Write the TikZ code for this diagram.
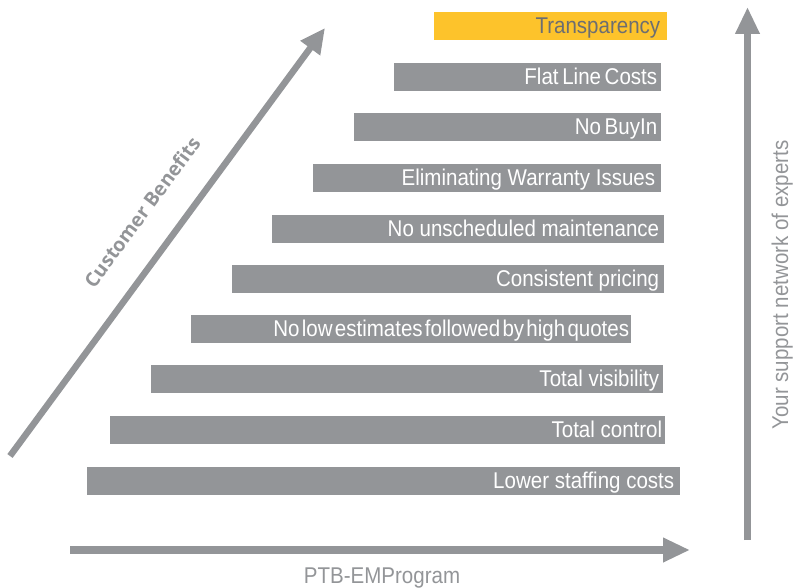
\documentclass[tikz,border=0pt]{standalone}
\usepackage{fontspec}
\usetikzlibrary{arrows.meta}
\newfontfamily\condfont[FakeStretch=0.9]{Liberation Sans}
\newfontfamily\boldsans{Open Sans}
\definecolor{bargray}{HTML}{939598}
\definecolor{baryellow}{HTML}{FDC32B}
\definecolor{darktext}{HTML}{6D6E71}
\tikzset{
  barbox/.style={fill=bargray, draw=none, inner sep=0pt, anchor=north west},
  yellowbox/.style={fill=baryellow, draw=none, inner sep=0pt, anchor=north west},
  bartext/.style={font=\condfont\fontsize{22.8}{24}\selectfont, text=white, inner sep=0pt, anchor=base east},
  axislabel/.style={font=\condfont\fontsize{22.8}{24}\selectfont, text=bargray, inner sep=0pt},
  bigarrow/.style={draw=bargray, line width=7.5pt, -{Triangle[length=27pt,width=23pt]}},
  tight/.style={execute at begin node={\spaceskip=0.16em plus 0.02em}}
}
\newcommand{\benefitbar}[5]{%
  % #1 name, #2 x1, #3 top, #4 x2, #5 style
  \node (#1) [#5, minimum width={#4-#2}, minimum height=27.5pt] at (#2,#3) {};
}
\begin{document}
\begin{tikzpicture}[x=1pt,y=-1pt]
\useasboundingbox (0,0) rectangle (793,588);
% bars
\benefitbar{b1}{434}{12}{667}{yellowbox}
\benefitbar{b2}{394}{63}{661}{barbox}
\benefitbar{b3}{354}{113}{661}{barbox}
\benefitbar{b4}{313}{164}{661}{barbox}
\benefitbar{b5}{272}{215}{664}{barbox}
\benefitbar{b6}{232}{265}{664}{barbox}
\benefitbar{b7}{191}{315}{631}{barbox}
\benefitbar{b8}{151}{365}{663}{barbox}
\benefitbar{b9}{110}{416}{665}{barbox}
\benefitbar{b10}{87}{467}{680}{barbox}
% texts
\node (t1) [bartext, text=darktext] at ([xshift=-7pt,yshift=-21.5pt]b1.north east) {Transparency};
\node (t2) [bartext, tight] at ([xshift=-4pt,yshift=-21.5pt]b2.north east) {Flat Line Costs};
\node (t3) [bartext, tight] at ([xshift=-4pt,yshift=-21.5pt]b3.north east) {No BuyIn};
\node (t4) [bartext] at ([xshift=-6pt,yshift=-21.5pt]b4.north east) {Eliminating Warranty Issues};
\node (t5) [bartext] at ([xshift=-5pt,yshift=-21.5pt]b5.north east) {No unscheduled maintenance};
\node (t6) [bartext] at ([xshift=-5pt,yshift=-21.5pt]b6.north east) {Consistent pricing};
\node (t7) [bartext, execute at begin node={\spaceskip=0.1em plus 0.02em}] at ([xshift=-2pt,yshift=-21.5pt]b7.north east) {No low estimates followed by high quotes};
\node (t8) [bartext] at ([xshift=-4pt,yshift=-21.5pt]b8.north east) {Total visibility};
\node (t9) [bartext] at ([xshift=-3pt,yshift=-21.5pt]b9.north east) {Total control};
\node (t10) [bartext] at ([xshift=-6pt,yshift=-21.5pt]b10.north east) {Lower staffing costs};
% arrows
\coordinate (hs) at (70,550);
\coordinate (he) at (690,550);
\coordinate (vs) at (747.5,540);
\coordinate (ve) at (747.5,7);
\coordinate (ds) at (10,456);
\coordinate (de) at (325,28);
\draw[bigarrow] (hs) -- (he);
\draw[bigarrow] (vs) -- (ve);
\draw[bigarrow, line width=6.5pt, -{Triangle[length=25pt,width=23pt]}] (ds) -- (de);
% axis labels
\node (lh) [axislabel, anchor=base] at (382,583) {PTB-EMProgram};
\node (lv) [axislabel, anchor=base, rotate=90] at (788,285) {Your support network of experts};
\node (ld) [font=\boldsans\bfseries\fontsize{19.5}{21}\selectfont, text=bargray, inner sep=0pt, rotate=53.6] at (142,212) {Customer Benefits};
\end{tikzpicture}
\end{document}
